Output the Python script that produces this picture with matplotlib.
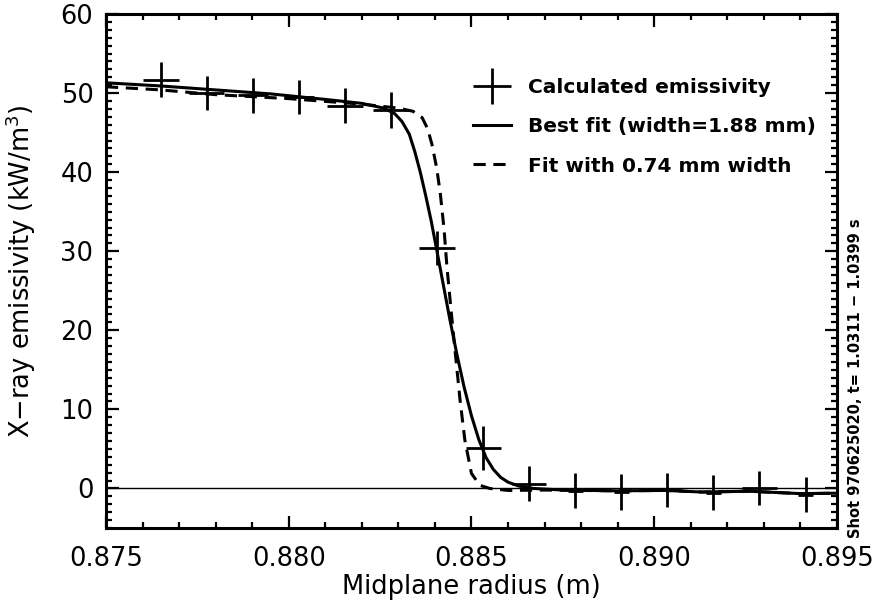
import matplotlib
matplotlib.use("Agg")
import matplotlib.pyplot as plt
from matplotlib.legend_handler import HandlerErrorbar
from matplotlib.ticker import MultipleLocator

plt.rcParams['font.family'] = ['DejaVu Sans']
plt.rcParams['mathtext.default'] = 'regular'

# calculated emissivity points (m, kW/m^3)
radius = [0.87650, 0.87776, 0.87902, 0.88028, 0.88154, 0.88280, 0.88406, 0.88532,
          0.88658, 0.88784, 0.88910, 0.89036, 0.89162, 0.89288, 0.89414]
emiss = [51.7, 50.0, 49.7, 49.5, 48.4, 47.9, 30.4, 5.1,
         0.6, -0.3, -0.45, -0.2, -0.55, 0.05, -0.8]
radius_err = [0.0005, 0.00048, 0.0004, 0.0004, 0.00048, 0.00048, 0.00049, 0.00048,
              0.00047, 0.0002, 0.0002, 0.0004, 0.0002, 0.00047, 0.0002]
emiss_err = [2.2, 2.2, 2.2, 2.2, 2.2, 2.3, 2.1, 2.8,
             2.2, 2.2, 2.3, 2.2, 2.2, 2.2, 2.2]

# best fit, width = 1.88 mm
fit_r = [0.87500, 0.87650, 0.87800, 0.87950, 0.88100, 0.88200, 0.88260, 0.88290,
         0.88310, 0.88330, 0.88345, 0.88360, 0.88375, 0.88390, 0.88404, 0.88420,
         0.88440, 0.88460, 0.88480, 0.88500, 0.88520, 0.88540, 0.88560, 0.88580,
         0.88600, 0.88630, 0.88670, 0.88750, 0.88900, 0.89030, 0.89130, 0.89260,
         0.89400, 0.89500]
fit_e = [51.3, 50.9, 50.4, 49.9, 49.2, 48.7, 48.1, 47.4,
         46.4, 44.8, 42.6, 40.0, 37.0, 33.8, 30.4, 26.5,
         21.6, 17.0, 12.8, 9.2, 6.2, 3.9, 2.4, 1.4,
         0.8, 0.3, 0.0, -0.2, -0.3, -0.25, -0.45, -0.35,
         -0.65, -0.6]

# fit with 0.74 mm width
narrow_r = [0.87500, 0.87650, 0.87800, 0.88000, 0.88200, 0.88300, 0.88340, 0.88365,
            0.88380, 0.88392, 0.88405, 0.88415, 0.88425, 0.88433, 0.88446, 0.88455,
            0.88469, 0.88482, 0.88500, 0.88523, 0.88550, 0.88600, 0.88700, 0.88900,
            0.89030, 0.89130, 0.89260, 0.89400, 0.89500]
narrow_e = [50.8, 50.4, 49.8, 49.3, 48.6, 48.1, 47.7, 46.9,
            45.5, 43.5, 40.5, 37.2, 32.8, 28.0, 21.7, 17.5,
            11.1, 6.1, 1.9, 0.4, 0.0, -0.25, -0.2, -0.3,
            -0.25, -0.45, -0.35, -0.65, -0.6]

fig = plt.figure(figsize=(8.75, 6.09), dpi=100)
ax = fig.add_axes([0.1211, 0.133, 0.8354, 0.844])

ax.axhline(0, color='k', lw=1.0)
ebar = ax.errorbar(radius, emiss, xerr=radius_err, yerr=emiss_err, fmt='none',
                   ecolor='k', elinewidth=2.0, capsize=0, label='Calculated emissivity')
best, = ax.plot(fit_r, fit_e, color='k', lw=2.2, label='Best fit (width=1.88 mm)')
narrow, = ax.plot(narrow_r, narrow_e, color='k', lw=2.2, dashes=(4, 2.5),
                  label='Fit with 0.74 mm width')

ax.set_xlim(0.875, 0.895)
ax.set_ylim(-5, 60)
ax.xaxis.set_major_locator(MultipleLocator(0.005))
ax.xaxis.set_minor_locator(MultipleLocator(0.001))
ax.yaxis.set_major_locator(MultipleLocator(10))
ax.yaxis.set_minor_locator(MultipleLocator(1))
ax.xaxis.set_major_formatter(matplotlib.ticker.FormatStrFormatter('%.3f'))

for s in ax.spines.values():
    s.set_linewidth(2.2)
ax.tick_params(which='both', direction='in', top=True, right=True, width=1.6, labelsize=18.5)
ax.tick_params(which='major', length=9)
ax.tick_params(which='minor', length=4.5)
ax.tick_params(axis='x', pad=13)
ax.tick_params(axis='y', pad=9)

ax.set_xlabel('Midplane radius (m)', fontsize=18.5)
ax.set_ylabel('X\u2212ray emissivity (kW/m$^3$)', fontsize=18.5)
ax.xaxis.set_label_coords(0.5, -0.089)
ax.yaxis.set_label_coords(-0.093, 0.5)

leg = ax.legend(handles=[ebar, best, narrow], loc='upper left',
                bbox_to_anchor=(0.502, 0.875), frameon=False, borderpad=0,
                borderaxespad=0, handlelength=1.9, handletextpad=0.85,
                labelspacing=1.0,
                prop={'size': 14.5, 'weight': 'bold'},
                handler_map={ebar: HandlerErrorbar(xerr_size=0.95, yerr_size=0.9)})

fig.text(855 / 875, 1 - 378 / 609, 'Shot 970625020, t= 1.0311 \u2212 1.0399 s',
         rotation=90, ha='center', va='center', fontsize=10.5, fontweight='bold')

fig.savefig('out.png', dpi=100)
